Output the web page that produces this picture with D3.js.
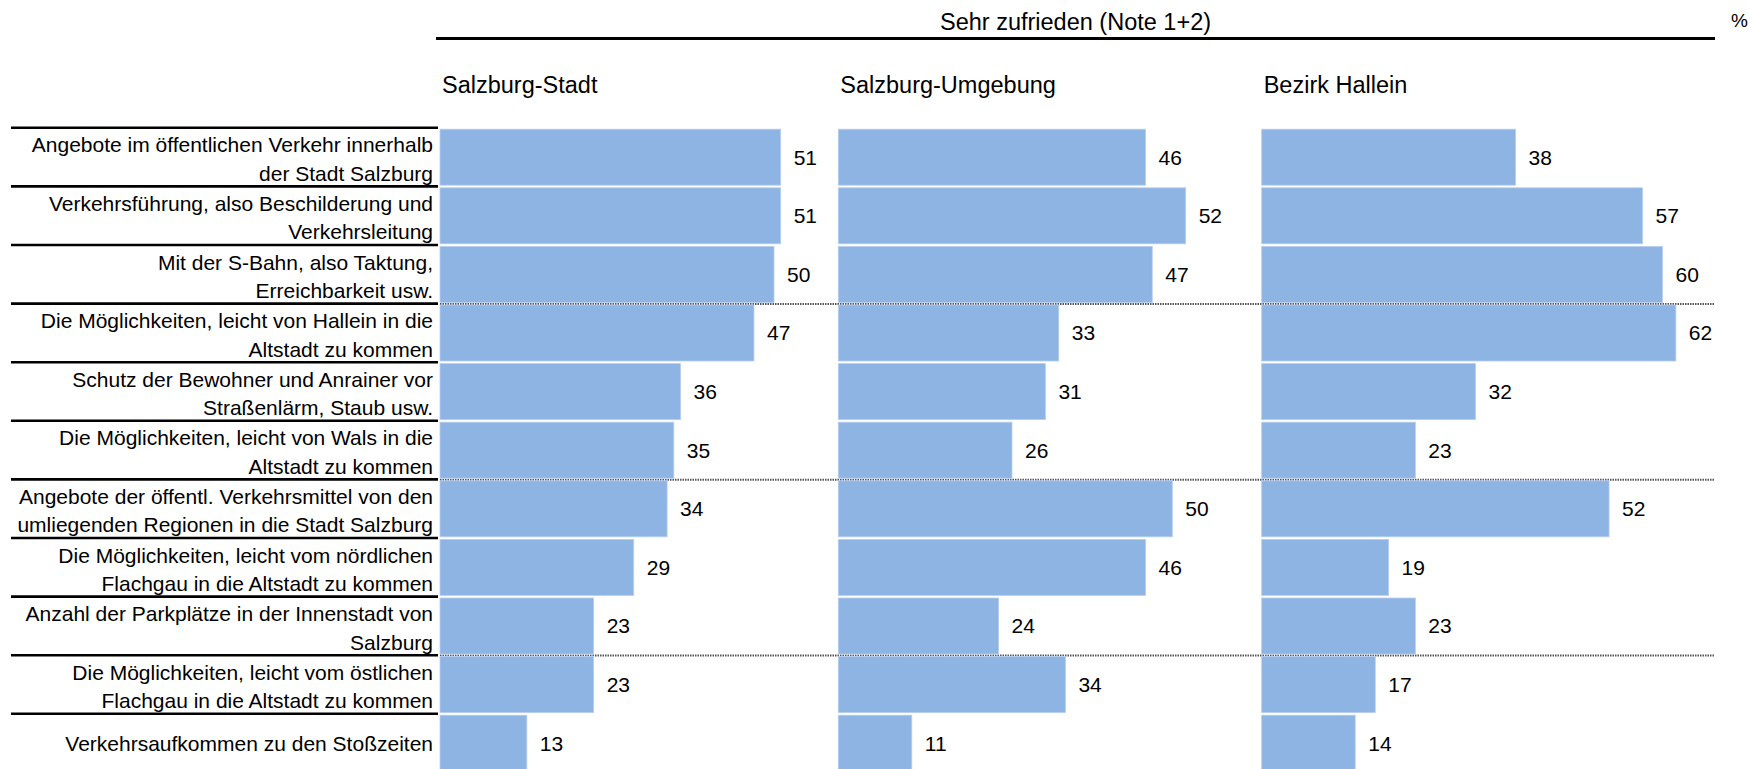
<!DOCTYPE html>
<html>
<head>
<meta charset="utf-8">
<script src="https://cdn.jsdelivr.net/npm/d3@7"></script>
<style>
  html, body { margin: 0; padding: 0; background: #fff; }
  svg { display: block; font-family: "Liberation Sans", Arial, sans-serif; }
</style>
</head>
<body>
<svg id="chart" width="1750" height="769"></svg>
<script>
// ---- data ----
const categories = [
  "Angebote im öffentlichen Verkehr innerhalb\nder Stadt Salzburg",
  "Verkehrsführung, also Beschilderung und\nVerkehrsleitung",
  "Mit der S-Bahn, also Taktung,\nErreichbarkeit usw.",
  "Die Möglichkeiten, leicht von Hallein in die\nAltstadt zu kommen",
  "Schutz der Bewohner und Anrainer vor\nStraßenlärm, Staub usw.",
  "Die Möglichkeiten, leicht von Wals in die\nAltstadt zu kommen",
  "Angebote der öffentl. Verkehrsmittel von den\numliegenden Regionen in die Stadt Salzburg",
  "Die Möglichkeiten, leicht vom nördlichen\nFlachgau in die Altstadt zu kommen",
  "Anzahl der Parkplätze in der Innenstadt von\nSalzburg",
  "Die Möglichkeiten, leicht vom östlichen\nFlachgau in die Altstadt zu kommen",
  "Verkehrsaufkommen zu den Stoßzeiten"
];
const seriesNames = ["Salzburg-Stadt", "Salzburg-Umgebung", "Bezirk Hallein"];
const salzburgStadt    = [51, 51, 50, 47, 36, 35, 34, 29, 23, 23, 13];
const salzburgUmgebung = [46, 52, 47, 33, 31, 26, 50, 46, 24, 34, 11];
const bezirkHallein    = [38, 57, 60, 62, 32, 23, 52, 19, 23, 17, 14];
const title = "Sehr zufrieden (Note 1+2)";
const unit = "%";
const groupBreaks = [3, 6, 9];

// ---- layout ----
const svg = d3.select("#chart");
const rowTop = 127.8, rowPitch = 58.6;
const y = d3.scaleBand()
  .domain(categories)
  .range([rowTop, rowTop + rowPitch * categories.length])
  .padding(0);
const x = d3.scaleLinear().domain([0, 100]).range([0, 668]);
const panelX = [440, 838.3, 1261.7];
const series = [salzburgStadt, salzburgUmgebung, bezirkHallein];
const barColor = "#8EB4E3";

// header
svg.append("line")
  .attr("x1", 436).attr("x2", 1715).attr("y1", 38.5).attr("y2", 38.5)
  .attr("stroke", "#000").attr("stroke-width", 3);
svg.append("text")
  .attr("x", 1075.5).attr("y", 29.5)
  .attr("text-anchor", "middle")
  .attr("font-size", 23.5)
  .attr("fill", "#000")
  .text(title);
svg.append("text")
  .attr("x", 1731).attr("y", 27)
  .attr("font-size", 19)
  .attr("fill", "#000")
  .text(unit);

// dotted group separators across panels (behind bars)
svg.append("g").selectAll("line")
  .data(groupBreaks)
  .join("line")
  .attr("x1", 440).attr("x2", 1715)
  .attr("y1", d => y(categories[d]) + 0.3)
  .attr("y2", d => y(categories[d]) + 0.3)
  .attr("stroke", "#555")
  .attr("stroke-width", 2)
  .attr("stroke-dasharray", "1.5 1");

// label separators (solid)
const sepG = svg.append("g");
categories.forEach((c, i) => {
  sepG.append("line")
    .attr("x1", 11).attr("x2", 438)
    .attr("y1", y(c)).attr("y2", y(c))
    .attr("stroke", "#000").attr("stroke-width", 2.6);
});
sepG.append("line")
  .attr("x1", 11).attr("x2", 438)
  .attr("y1", y.range()[1]).attr("y2", y.range()[1])
  .attr("stroke", "#000").attr("stroke-width", 2.6);

// category labels
const labG = svg.append("g");
categories.forEach(c => {
  const lines = c.split("\n");
  const cy = y(c) + y.bandwidth() / 2;
  const lh = 28.4;
  const first = lines.length === 1 ? cy + 7.5 : cy - 4.7;
  const t = labG.append("text")
    .attr("text-anchor", "end")
    .attr("font-size", 21)
    .attr("fill", "#000");
  lines.forEach((ln, k) => {
    t.append("tspan").attr("x", 433).attr("y", first + k * lh).text(ln);
  });
});

// panels
series.forEach((vals, si) => {
  const g = svg.append("g").attr("transform", `translate(${panelX[si]},0)`);
  g.append("text")
    .attr("x", 2).attr("y", 92.7)
    .attr("font-size", 23.5)
    .attr("fill", "#000")
    .text(seriesNames[si]);
  g.selectAll("rect")
    .data(vals)
    .join("rect")
    .attr("x", 0)
    .attr("y", (d, i) => y(categories[i]) + 1.4)
    .attr("width", d => x(d))
    .attr("height", y.bandwidth() - 2.6)
    .attr("fill", barColor)
    .attr("stroke", "#B7CDEE")
    .attr("stroke-width", 0.8);
  g.selectAll("text.val")
    .data(vals)
    .join("text")
    .attr("class", "val")
    .attr("x", d => x(d) + 13)
    .attr("y", (d, i) => y(categories[i]) + y.bandwidth() / 2 + 7.5)
    .attr("font-size", 21)
    .attr("fill", "#000")
    .text(d => d);
});
</script>
</body>
</html>
